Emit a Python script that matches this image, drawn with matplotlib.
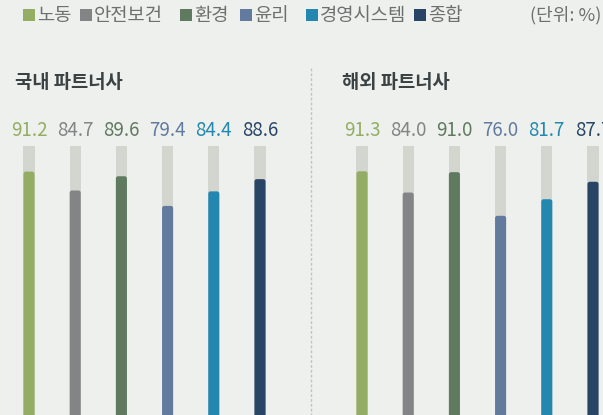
import matplotlib.pyplot as plt
from matplotlib.patches import Rectangle, FancyBboxPatch
from matplotlib.lines import Line2D
from matplotlib.transforms import blended_transform_factory

plt.rcParams['font.family'] = ['Noto Sans CJK KR', 'DejaVu Sans']

# data
categories = ['노동', '안전보건', '환경', '윤리', '경영시스템', '종합']
domestic = [91.2, 84.7, 89.6, 79.4, 84.4, 88.6]
overseas = [91.3, 84.0, 91.0, 76.0, 81.7, 87.7]
panel_titles = ['국내 파트너사', '해외 파트너사']
unit_label = '(단위: %)'

colors = ['#93ad64', '#838486', '#5f7a5f', '#627a9e', '#2487b0', '#284566']
track_color = '#d3d6cf'
bg = '#eef0ed'

W, H = 603, 415
fig = plt.figure(figsize=(W / 100, H / 100), dpi=100, facecolor=bg)


def px_box(x0, y0, w, h):
    # pixel box (top-left origin) -> figure fraction
    return [x0 / W, 1 - (y0 + h) / H, w / W, h / H]


step = 46.2      # px between bar centres
track_top = 146  # px, where 100% sits
ymin = 7.5
px_per_unit = (H - track_top) / (100 - ymin)


def draw_panel(left, values, title, title_x):
    ax = fig.add_axes(px_box(left, track_top, step * 6, H - track_top))
    ax.set_xlim(-0.5, 5.5)
    ax.set_ylim(ymin, 100)
    ax.axis('off')
    x = list(range(len(values)))
    ax.bar(x, [100] * len(values), width=0.24, color=track_color)
    bars = ax.bar(x, values, width=0.24, color=colors)
    # rounded tops
    for bar, c in zip(bars, colors):
        bar.set_visible(False)
        ax.add_patch(FancyBboxPatch((bar.get_x(), 0), bar.get_width(), bar.get_height(),
                                    boxstyle='round,pad=0,rounding_size=0.05',
                                    mutation_aspect=step / px_per_unit,
                                    fc=c, ec='none'))
    trans = blended_transform_factory(ax.transData, fig.transFigure)
    for xi, v, c in zip(x, values, colors):
        ax.text(xi, 1 - 130 / H, f'{v:.1f}', transform=trans, ha='center', va='center',
                fontsize=13.5, color=c, clip_on=False)
    fig.text(title_x / W, 1 - 82 / H, title, fontsize=13.5, fontweight='bold',
             color='#3a4244', va='center', ha='left')


draw_panel(29 - step / 2, domestic, panel_titles[0], 15)
draw_panel(362 - step / 2, overseas, panel_titles[1], 342)

# divider
fig.add_artist(Line2D([311 / W, 311 / W], [1 - 68 / H, 0], transform=fig.transFigure,
                      color='#b9c5cc', lw=1, linestyle=(0, (2, 1.5))))

# legend
legend_x = [23, 80, 180, 240, 306, 414]
for lx, name, c in zip(legend_x, categories, colors):
    fig.add_artist(Rectangle((lx / W, 1 - 21 / H), 12 / W, 12 / H,
                             transform=fig.transFigure, fc=c, ec='none'))
    fig.text((lx + 14) / W, 1 - 15 / H, name, fontsize=13.5, color='#6d7070',
             va='center', ha='left')
fig.text(601 / W, 1 - 15 / H, unit_label, fontsize=13, color='#6d7070',
         va='center', ha='right')

fig.savefig('out.png', dpi=100, facecolor=bg)
